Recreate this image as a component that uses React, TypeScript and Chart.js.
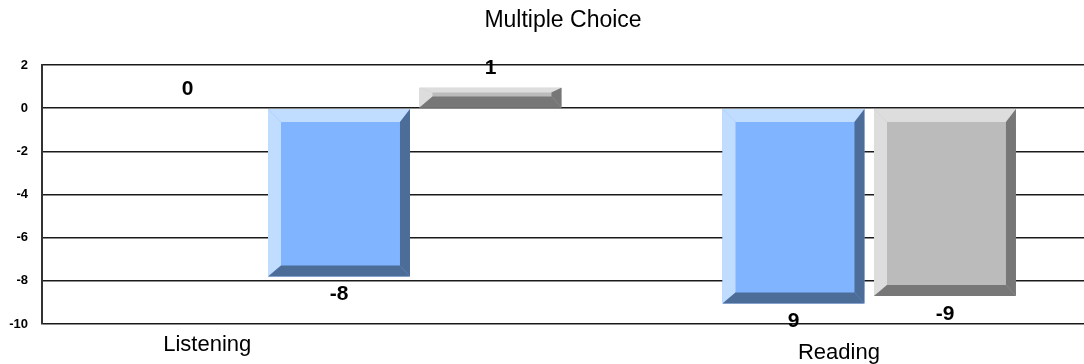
import React, { useEffect, useRef } from 'react';
import { Chart, registerables } from 'chart.js';

Chart.register(...registerables);

// ---- data ----
const chartTitle = 'Multiple Choice';
const categories = ['Listening', 'Reading'];
const seriesA: (number | null)[] = [0, null];
const seriesB: (number | null)[] = [-7.8, -9.05];
const seriesC: (number | null)[] = [0.95, -8.7];
const seriesALabels = ['0', ''];
const seriesBLabels = ['-8', '9'];
const seriesCLabels = ['1', '-9'];
const yMin = -10;
const yMax = 2;
const yStep = 2;

// where the category captions sit on the x scale (in category units)
const categoryLabelAt = [-0.29, 1.1];

const SANS = '"Liberation Sans", Arial, sans-serif';

const toPoints = (vals: (number | null)[]) => vals.map((v, i) => ({ x: i, y: v }));

const bevelPlugin = {
  id: 'bevel',
  afterDatasetsDraw(chart: any) {
    const ctx = chart.ctx;
    chart.data.datasets.forEach((ds: any, di: number) => {
      const meta = chart.getDatasetMeta(di);
      if (meta.hidden) return;
      meta.data.forEach((bar: any) => {
        const { x, y, base, width } = bar.getProps(['x', 'y', 'base', 'width'], true);
        if (!isFinite(x) || !isFinite(y) || !isFinite(base)) return;
        const left = x - width / 2;
        const right = x + width / 2;
        const top = Math.min(y, base);
        const bottom = Math.max(y, base);
        const h = bottom - top;
        if (h < 1) return;
        const bL = 13;
        const bR = 10;
        const bT = Math.min(13, h * 0.25);
        const bB = Math.min(11, h * 0.55);
        const poly = (pts: number[][], color: string) => {
          ctx.beginPath();
          ctx.moveTo(pts[0][0], pts[0][1]);
          for (let i = 1; i < pts.length; i++) ctx.lineTo(pts[i][0], pts[i][1]);
          ctx.closePath();
          ctx.fillStyle = color;
          ctx.fill();
        };
        ctx.save();
        poly([[left, top], [right, top], [right - bR, top + bT], [left + bL, top + bT]], ds.bevelLight);
        poly([[left, top], [left + bL, top + bT], [left + bL, bottom - bB], [left, bottom]], ds.bevelLight);
        poly([[right, top], [right, bottom], [right - bR, bottom - bB], [right - bR, top + bT]], ds.bevelDark);
        poly([[left, bottom], [right, bottom], [right - bR, bottom - bB], [left + bL, bottom - bB]], ds.bevelDark);
        ctx.restore();
      });
    });
  },
};

const valueLabelPlugin = {
  id: 'valueLabels',
  afterDatasetsDraw(chart: any) {
    const ctx = chart.ctx;
    ctx.save();
    ctx.font = `bold 21px ${SANS}`;
    ctx.fillStyle = '#000';
    ctx.textAlign = 'center';
    ctx.textBaseline = 'middle';
    chart.data.datasets.forEach((ds: any, di: number) => {
      const meta = chart.getDatasetMeta(di);
      meta.data.forEach((bar: any, i: number) => {
        const raw = ds.data[i];
        const text = ds.valueLabels ? ds.valueLabels[i] : '';
        if (!raw || raw.y === null || raw.y === undefined || !text) return;
        const { x, y, base } = bar.getProps(['x', 'y', 'base'], true);
        if (raw.y >= 0) {
          ctx.fillText(text, x, Math.min(y, base) - 19);
        } else {
          ctx.fillText(text, x, Math.max(y, base) + 18);
        }
      });
    });
    ctx.restore();
  },
};

export default function App() {
  const canvasRef = useRef<HTMLCanvasElement | null>(null);

  useEffect(() => {
    if (!canvasRef.current) return;
    const common = { categoryPercentage: 1, barPercentage: 0.937, borderWidth: 0 };
    const chart = new Chart(canvasRef.current, {
      type: 'bar',
      data: {
        datasets: [
          {
            label: 'Series A',
            data: toPoints(seriesA),
            backgroundColor: '#80b4ff',
            bevelLight: '#c0dcff',
            bevelDark: '#4d6d99',
            valueLabels: seriesALabels,
            ...common,
          } as any,
          {
            label: 'Series B',
            data: toPoints(seriesB),
            backgroundColor: '#80b4ff',
            bevelLight: '#c0dcff',
            bevelDark: '#4d6d99',
            valueLabels: seriesBLabels,
            ...common,
          } as any,
          {
            label: 'Series C',
            data: toPoints(seriesC),
            backgroundColor: '#bbbbbb',
            bevelLight: '#dddddd',
            bevelDark: '#777777',
            valueLabels: seriesCLabels,
            ...common,
          } as any,
        ],
      },
      options: {
        responsive: false,
        animation: false,
        layout: { padding: 0 },
        plugins: {
          legend: { display: false },
          tooltip: { enabled: false },
          title: {
            display: true,
            text: chartTitle,
            fullSize: false,
            color: '#000',
            font: { family: SANS, size: 23, weight: 'normal', lineHeight: 1.2 },
            padding: { top: 7, bottom: 30.4 },
          },
        },
        scales: {
          x: {
            type: 'linear',
            min: -0.6535,
            max: 1.6392,
            offset: false,
            grid: { display: false, drawTicks: false },
            border: { display: false },
            afterBuildTicks: (s: any) => {
              s.ticks = categoryLabelAt.map((v) => ({ value: v }));
            },
            afterFit: (s: any) => {
              s.height = 40;
            },
            ticks: {
              autoSkip: false,
              maxRotation: 0,
              padding: 8,
              color: '#000',
              callback: (_v: any, i: number) => categories[i],
              font: (ctx: any) => ({
                family: SANS,
                size: 22,
                lineHeight: ctx.index === 1 ? '42px' : '26px',
              }),
            },
          },
          y: {
            min: yMin,
            max: yMax,
            ticks: {
              stepSize: yStep,
              padding: 14,
              color: '#000',
              font: { family: SANS, size: 13, weight: 'bold' },
            },
            grid: { color: '#1a1a1a', lineWidth: 1.5, drawTicks: false },
            border: { display: true, color: '#333', width: 2 },
            afterFit: (s: any) => {
              s.width = 42;
            },
          },
        },
      } as any,
      plugins: [bevelPlugin, valueLabelPlugin],
    });
    return () => chart.destroy();
  }, []);

  return (
    <div style={{ position: 'absolute', left: 0, top: 0, width: 1084, height: 364 }}>
      <canvas ref={canvasRef} width={1084} height={364} style={{ display: 'block' }} />
    </div>
  );
}
